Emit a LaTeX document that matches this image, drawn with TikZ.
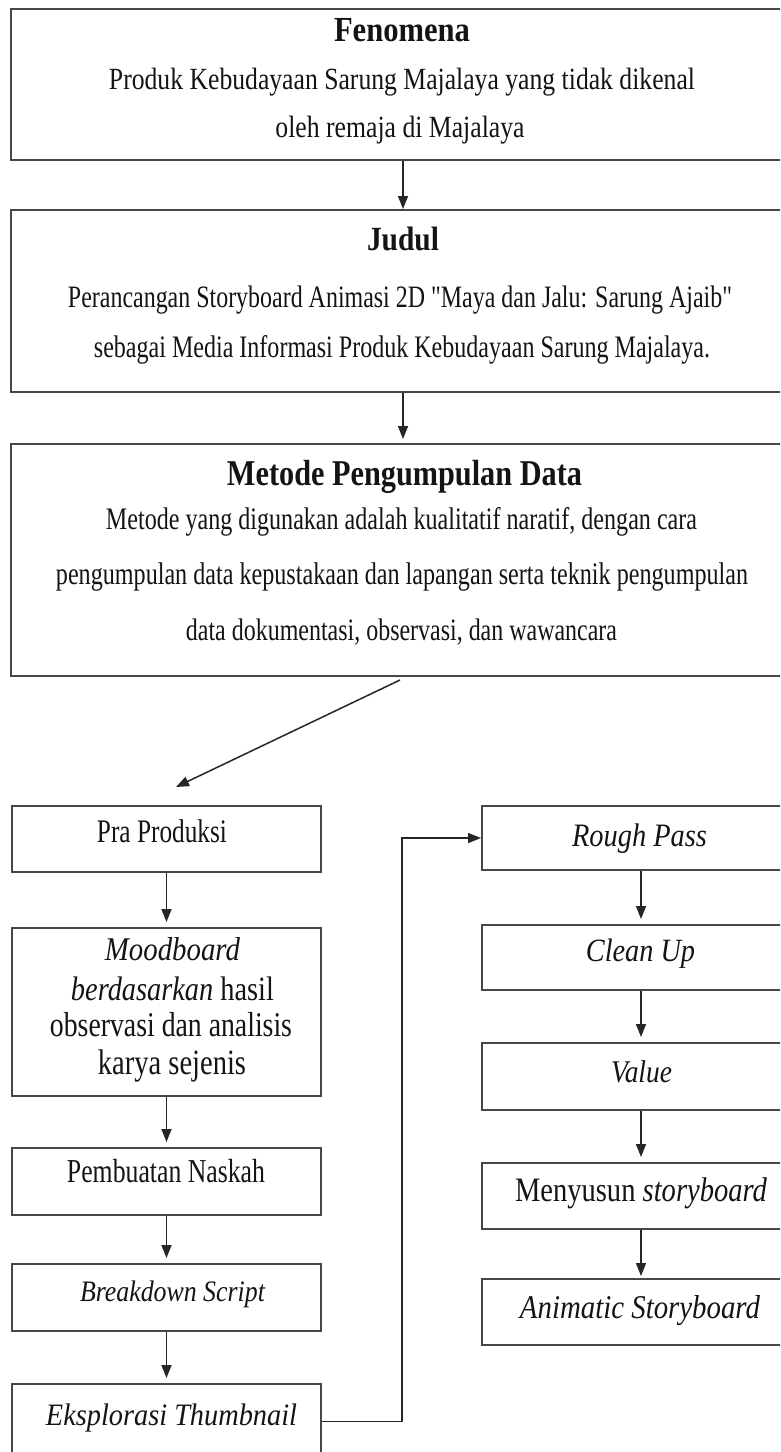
\documentclass[tikz,border=0pt]{standalone}
\usepackage{fontspec}
\setmainfont{Liberation Serif}[Ligatures=TeXOff]
\usepackage{graphicx}
\usetikzlibrary{arrows.meta}
\newcommand{\fw}[3]{\scalebox{1}[#2]{\resizebox{#1pt}{!}{\strut #3}}}
\begin{document}
\begin{tikzpicture}[x=1pt,y=-1pt,
  box/.style={draw=black!72, line width=2pt, rectangle, inner sep=0pt, anchor=north west},
  txt/.style={inner sep=0pt, text=black!92},
  arr/.style={-{Triangle[length=13pt,width=10pt]}, line width=1.5pt, draw=black!85},
  gap/.style={shorten >=5pt}]
\clip (0,0) rectangle (780,1452);
\fill[white] (0,0) rectangle (780,1452);

% top boxes
\node[box, minimum width=784pt, minimum height=151pt] (b1) at (10,8) {};
\node[box, minimum width=784pt, minimum height=182pt] (b2) at (10,209) {};
\node[box, minimum width=784pt, minimum height=232pt] (b3) at (10,443) {};

% left column
\node[box, minimum width=309pt, minimum height=66pt] (p1) at (11,805) {};
\node[box, minimum width=309pt, minimum height=168pt] (p2) at (11,927) {};
\node[box, minimum width=309pt, minimum height=67pt] (p3) at (11,1147) {};
\node[box, minimum width=309pt, minimum height=67pt] (p4) at (11,1263) {};
\node[box, minimum width=309pt, minimum height=75pt] (p5) at (11,1383) {};

% right column
\node[box, minimum width=318pt, minimum height=64pt] (r1) at (481,805) {};
\node[box, minimum width=318pt, minimum height=65pt] (r2) at (481,924) {};
\node[box, minimum width=318pt, minimum height=67pt] (r3) at (481,1042) {};
\node[box, minimum width=318pt, minimum height=66pt] (r4) at (481,1162) {};
\node[box, minimum width=318pt, minimum height=66pt] (r5) at (481,1278) {};

% texts
\node[txt] (t1a) at (402,33) {\fw{136}{1.15}{\bfseries Fenomena}};
\node[txt] (t1b) at (402,82) {\fw{586}{1.2}{Produk Kebudayaan Sarung Majalaya yang tidak dikenal}};
\node[txt] (t1c) at (400,130) {\fw{249}{1.2}{oleh remaja di Majalaya}};

\node[txt] (t2a) at (403,242) {\fw{72}{1.15}{\bfseries Judul}};
\node[txt] (t2b) at (400,300) {\fw{664}{1.3}{Perancangan Storyboard Animasi 2D "Maya dan Jalu: Sarung Ajaib"}};
\node[txt] (t2c) at (402,350) {\fw{616}{1.3}{sebagai Media Informasi Produk Kebudayaan Sarung Majalaya.}};

\node[txt] (t3a) at (404.5,477) {\fw{355}{1.2}{\bfseries Metode Pengumpulan Data}};
\node[txt] (t3b) at (401.5,522) {\fw{591}{1.3}{Metode yang digunakan adalah kualitatif naratif, dengan cara}};
\node[txt] (t3c) at (402,577) {\fw{692}{1.3}{pengumpulan data kepustakaan dan lapangan serta teknik pengumpulan}};
\node[txt] (t3d) at (401.5,633) {\fw{431}{1.3}{data dokumentasi, observasi, dan wawancara}};

\node[txt] (tp1) at (162,835) {\fw{130}{1.3}{Pra Produksi}};
\node[txt] (tp2a) at (172.5,953) {\fw{135}{1.15}{\itshape Moodboard}};
\node[txt] (tp2b) at (172.5,992) {\fw{203}{1.2}{\textit{berdasarkan} hasil}};
\node[txt] (tp2c) at (171,1028) {\fw{242}{1.25}{observasi dan analisis}};
\node[txt] (tp2d) at (172,1066) {\fw{148}{1.25}{karya sejenis}};
\node[txt] (tp3) at (166,1174) {\fw{198}{1.3}{Pembuatan Naskah}};
\node[txt] (tp4) at (172.5,1294) {\fw{185}{1.15}{\itshape Breakdown Script}};
\node[txt] (tp5) at (171.5,1418) {\fw{251}{1.1}{\itshape Eksplorasi Thumbnail}};

\node[txt] (tr1) at (639.5,839) {\fw{135}{1.15}{\itshape Rough Pass}};
\node[txt] (tr2) at (640.5,954) {\fw{109}{1.15}{\itshape Clean Up}};
\node[txt] (tr3) at (641.5,1075) {\fw{61}{1.15}{\itshape Value}};
\node[txt] (tr4) at (641,1193) {\fw{252}{1.2}{Menyusun \textit{storyboard}}};
\node[txt] (tr5) at (640,1311) {\fw{240}{1.15}{\itshape Animatic Storyboard}};

% connectors
\draw[arr] (b1.south) -- (b2.north);
\draw[arr, shorten >=4pt] (b2.south) -- (b3.north);
\coordinate (d1) at (400,680);
\coordinate (d2) at (176,787);
\draw[arr] (d1) -- (d2);

\draw[arr, gap] (p1.south) -- (p2.north);
\draw[arr, gap] (p2.south) -- (p3.north);
\draw[arr, gap] (p3.south) -- (p4.north);
\draw[arr, gap] (p4.south) -- (p5.north);

\draw[arr, gap] (r1.south) -- (r2.north);
\draw[arr, gap] (r2.south) -- (r3.north);
\draw[arr, gap] (r3.south) -- (r4.north);
\draw[arr, shorten >=2pt] (r4.south) -- (r5.north);

\coordinate (c1) at (402,1000);
\draw[arr] (p5.east) -- (p5.east -| c1) -- (r1.west -| c1) -- (r1.west);
\end{tikzpicture}
\end{document}
